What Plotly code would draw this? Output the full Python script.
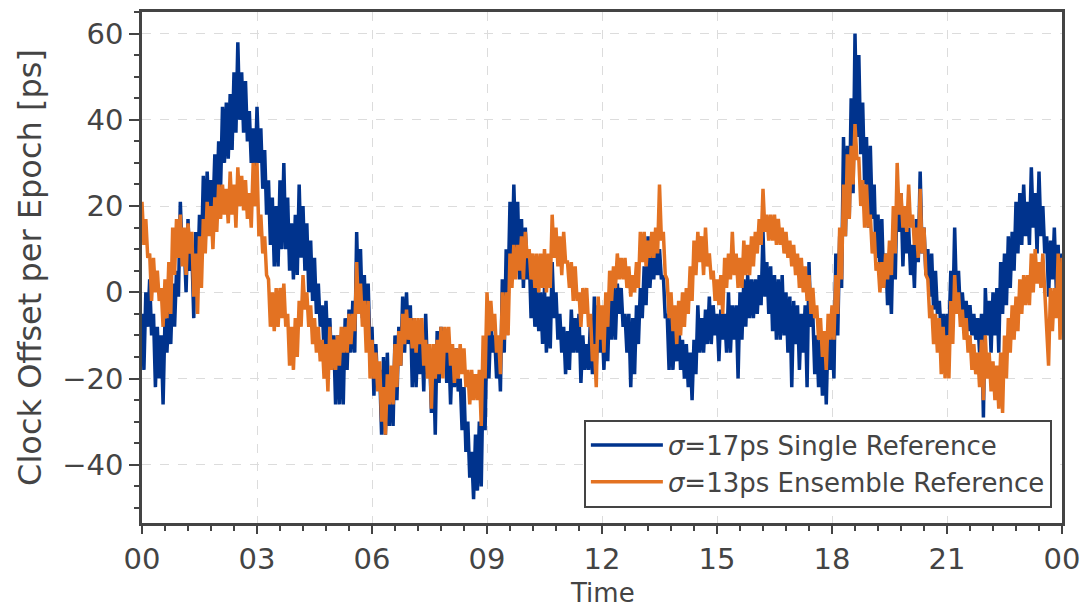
import plotly.graph_objects as go

# Hours of the day, sampled every 0.1 h (each sample has a high and a low reading)
hours = [round(i * 0.1, 1) for i in range(241)]

single_hi = [-5, 0, 3, -5, -8, -10, -6, -4, 2, 5,
             21, 12, 17, 10, 14, 18, 27, 28, 26, 32,
             35, 43, 44, 46, 51, 58, 51, 49, 42, 38,
             43, 38, 33, 26, 22, 20, 26, 30, 22, 16,
             18, 25, 20, 16, 12, 8, 2, -3, -2, -6,
             -10, -10, -10, -6, -4, -2, 14, 10, 4, 2,
             -8, -12, -18, -15, -14, -20, -10, -8, -1, 0,
             -3, -6, -10, -10, -5, -13, -14, -9, -8, -12,
             -12, -13, -13, -20, -22, -30, -37, -33, -30, -18,
             -8, -6, -10, -12, 3, 10, 21, 25, 21, 17,
             15, 9, 3, 1, 0, 1, -1, 7, 0, -5,
             -8, -9, -4, -6, -5, -10, -12, -6, -1, -3,
             -6, -5, 0, 1, 2, 1, -5, -5, -6, -3,
             1, 6, 13, 9, 11, 10, 4, -5, -6, -9,
             -6, -11, -12, -14, -11, -3, -6, -4, -1, -3,
             -5, -4, -5, 0, -3, -3, 0, 3, 4, 3,
             3, 4, 14, 7, 6, 4, 3, 4, 0, -1,
             -2, -3, -5, -3, 7, -5, -10, -11, -10, -8,
             -9, 9, 13, 36, 34, 45, 60, 55, 44, 36,
             34, 25, 18, 17, 9, 5, 15, 25, 23, 20,
             15, 11, 17, 28, 15, 10, 9, 5, -2, -5,
             -5, 5, 15, 5, 0, -2, -3, -5, -6, -5,
             1, -2, 0, 1, 7, 9, 13, 14, 21, 23,
             25, 21, 29, 23, 28, 20, 13, 12, 15, 11,
             9]
single_lo = [-18, -8, -10, -22, -20, -26, -14, -12, -8, -1,
             8, 0, 5, -6, 3, 8, 12, 16, 18, 20,
             24, 30, 31, 33, 37, 40, 37, 35, 30, 26,
             30, 24, 18, 11, 6, 6, 10, 10, 5, 3,
             4, 8, 5, 0, -2, -5, -8, -14, -14, -18,
             -26, -26, -26, -18, -14, -14, -4, -6, -10, -14,
             -24, -22, -33, -33, -31, -31, -25, -17, -14, -12,
             -22, -22, -19, -23, -19, -28, -33, -21, -18, -21,
             -26, -22, -23, -32, -37, -43, -48, -46, -45, -32,
             -20, -14, -20, -23, -14, 0, 5, 9, 3, 1,
             3, -6, -8, -9, -12, -14, -13, -6, -11, -14,
             -19, -18, -14, -14, -21, -18, -18, -19, -17, -14,
             -18, -16, -11, -11, -5, -8, -14, -22, -19, -12,
             -6, -3, 1, 3, 4, 3, -6, -18, -18, -16,
             -18, -20, -22, -25, -19, -14, -14, -12, -12, -10,
             -16, -11, -14, -14, -11, -20, -11, -8, -6, -6,
             -5, -3, -1, -5, -9, -11, -11, -10, -14, -22,
             -12, -18, -14, -22, -8, -19, -22, -24, -26, -18,
             -20, -10, 1, 13, 17, 23, 36, 32, 25, 15,
             17, 8, 5, 1, -3, -5, 3, 14, 6, 9,
             4, 1, 7, 9, 4, -1, -4, -5, -10, -11,
             -10, -6, -2, -5, -6, -9, -10, -11, -14, -29,
             -10, -14, -10, -14, -5, -3, 1, 5, 9, 11,
             13, 11, 15, 9, 13, 9, -1, 3, 1, -6,
             -8]

ensemble_hi = [21, 17, 9, 8, 5, 1, 3, 7, 15, 17,
               18, 15, 16, 14, 9, 13, 17, 21, 20, 22,
               25, 25, 24, 28, 25, 29, 27, 26, 23, 30,
               30, 18, 13, 3, 0, 1, 1, 2, -5, -8,
               -6, -2, 4, 0, -3, -6, -8, -11, -12, -8,
               -11, -10, -8, -8, -5, -5, 7, 2, -2, -2,
               -11, -14, -16, -22, -19, -17, -12, -9, -5, -4,
               -6, -6, -6, -6, -11, -12, -12, -11, -8, -8,
               -8, -12, -13, -12, -13, -18, -18, -19, -18, -10,
               0, -2, -5, -10, 0, 0, 9, 11, 11, 13,
               14, 10, 9, 9, 9, 10, 9, 18, 15, 13,
               14, 7, 7, 6, 0, 1, 1, -5, -12, -1,
               -3, 0, 5, 6, 9, 8, 8, 6, 4, 7,
               14, 14, 12, 14, 15, 25, 14, 3, 0, -3,
               -2, 0, 1, 6, 12, 14, 13, 15, 9, 5,
               3, 4, 8, 9, 14, 9, 8, 12, 11, 13,
               14, 17, 24, 18, 18, 18, 17, 15, 14, 12,
               11, 9, 8, 6, 4, 1, -3, -6, -9, -5,
               -3, 4, 15, 25, 32, 34, 39, 31, 26, 25,
               18, 14, 7, 7, 9, 12, 20, 30, 23, 20,
               25, 18, 15, 24, 15, 3, -3, -5, -6, -8,
               -10, -2, 4, 0, -4, -6, -10, -12, -14, -11,
               -10, -14, -16, -17, -14, -10, -6, -3, -1, 3,
               4, 4, 9, 10, 7, 9, -5, 1, 1, 9,
               8]
ensemble_lo = [11, 8, -2, 0, -2, -8, -6, -5, 4, 8,
               6, 4, 9, -1, -5, 1, 9, 13, 10, 14,
               17, 18, 16, 18, 15, 20, 19, 17, 15, 20,
               13, 9, 4, -8, -9, -8, -6, -8, -17, -18,
               -15, -8, -4, -8, -12, -14, -16, -20, -23, -18,
               -18, -17, -14, -14, -12, -9, -5, -8, -14, -20,
               -20, -23, -30, -33, -26, -26, -22, -17, -12, -11,
               -13, -14, -12, -17, -20, -27, -20, -19, -20, -14,
               -17, -21, -20, -19, -22, -26, -25, -25, -31, -20,
               -10, -9, -14, -19, -11, -10, 1, 3, 5, 3,
               8, 3, 1, 0, 1, 0, 1, 8, 6, 4,
               7, 1, -2, -2, -8, -5, -8, -16, -22, -11,
               -14, -8, -2, 1, 3, 3, 1, -1, 0, 1,
               7, 6, 8, 8, 9, 12, 4, -6, -9, -12,
               -10, -8, -5, -2, 4, 7, 4, 6, 3, -2,
               -3, -5, 1, 3, 4, 1, 1, 4, 4, 6,
               9, 11, 14, 12, 12, 11, 11, 9, 8, 6,
               4, 1, 0, -2, -5, -6, -11, -15, -18, -11,
               -11, -5, 3, 13, 17, 25, 31, 20, 15, 15,
               9, 5, 0, 1, 3, 4, 9, 18, 15, 14,
               15, 11, 8, 9, 4, -6, -12, -14, -19, -20,
               -20, -12, -5, -8, -11, -14, -18, -19, -22, -25,
               -20, -23, -25, -27, -28, -20, -14, -11, -9, -5,
               -3, -3, 0, 2, 1, 0, -17, -9, -6, -11,
               -8]

tick_hours = [0, 3, 6, 9, 12, 15, 18, 21, 24]
tick_text = ["00", "03", "06", "09", "12", "15", "18", "21", "00"]


def interleave(hi, lo):
    xs, ys = [], []
    for h, a, b in zip(hours, hi, lo):
        xs.extend([h, h + 0.05])
        ys.extend([a, b])
    return xs, ys


xb, yb = interleave(single_hi, single_lo)
xo, yo = interleave(ensemble_hi, ensemble_lo)

FONT = "DejaVu Sans"
TXT = "#444444"

fig = go.Figure()
fig.add_trace(go.Scatter(x=xb, y=yb, mode="lines",
                         line=dict(color="#00338D", width=3.5),
                         name="<i>σ</i>=17ps Single Reference"))
fig.add_trace(go.Scatter(x=xo, y=yo, mode="lines",
                         line=dict(color="#E37222", width=3.5),
                         name="<i>σ</i>=13ps Ensemble Reference"))

axis_common = dict(
    showline=True, mirror=True, linecolor="#444444", linewidth=2.5,
    ticks="outside", tickwidth=2, tickcolor="#444444",
    showgrid=True, gridcolor="#dcdcdc", griddash="dash", gridwidth=1.2,
    zeroline=False, automargin=False,
    tickfont=dict(family=FONT, size=29, color=TXT),
)

fig.update_xaxes(
    **axis_common,
    ticklen=8,
    range=[0, 24], tickvals=tick_hours, ticktext=tick_text,
    minor=dict(dtick=0.6, tick0=0, ticks="outside", ticklen=5,
               tickcolor="#444444", tickwidth=1.5, showgrid=False),
)
fig.update_yaxes(
    **axis_common,
    ticklen=10,
    range=[-53.5, 65], dtick=20, tick0=0,
    minor=dict(dtick=5, tick0=0, ticks="outside", ticklen=5,
               tickcolor="#444444", tickwidth=1.5, showgrid=False),
    title=dict(text="Clock Offset per Epoch [ps]",
               font=dict(family=FONT, size=32, color=TXT),
               standoff=12),
)

# x-axis title placed as a paper-anchored label just under the tick labels
fig.add_annotation(text="Time", xref="paper", yref="paper",
                   x=0.5, y=-0.137, xanchor="center", yanchor="middle",
                   showarrow=False,
                   font=dict(family=FONT, size=26, color=TXT))

fig.update_layout(
    width=1085, height=609,
    margin=dict(l=142, r=23, t=12, b=86),
    paper_bgcolor="white", plot_bgcolor="white",
    showlegend=True,
    legend=dict(
        x=0.989, y=0.03, xanchor="right", yanchor="bottom",
        bgcolor="white", bordercolor="#444444", borderwidth=2,
        font=dict(family=FONT, size=26, color=TXT),
        itemwidth=72, tracegroupgap=4,
    ),
)

fig.write_html("out.html")
